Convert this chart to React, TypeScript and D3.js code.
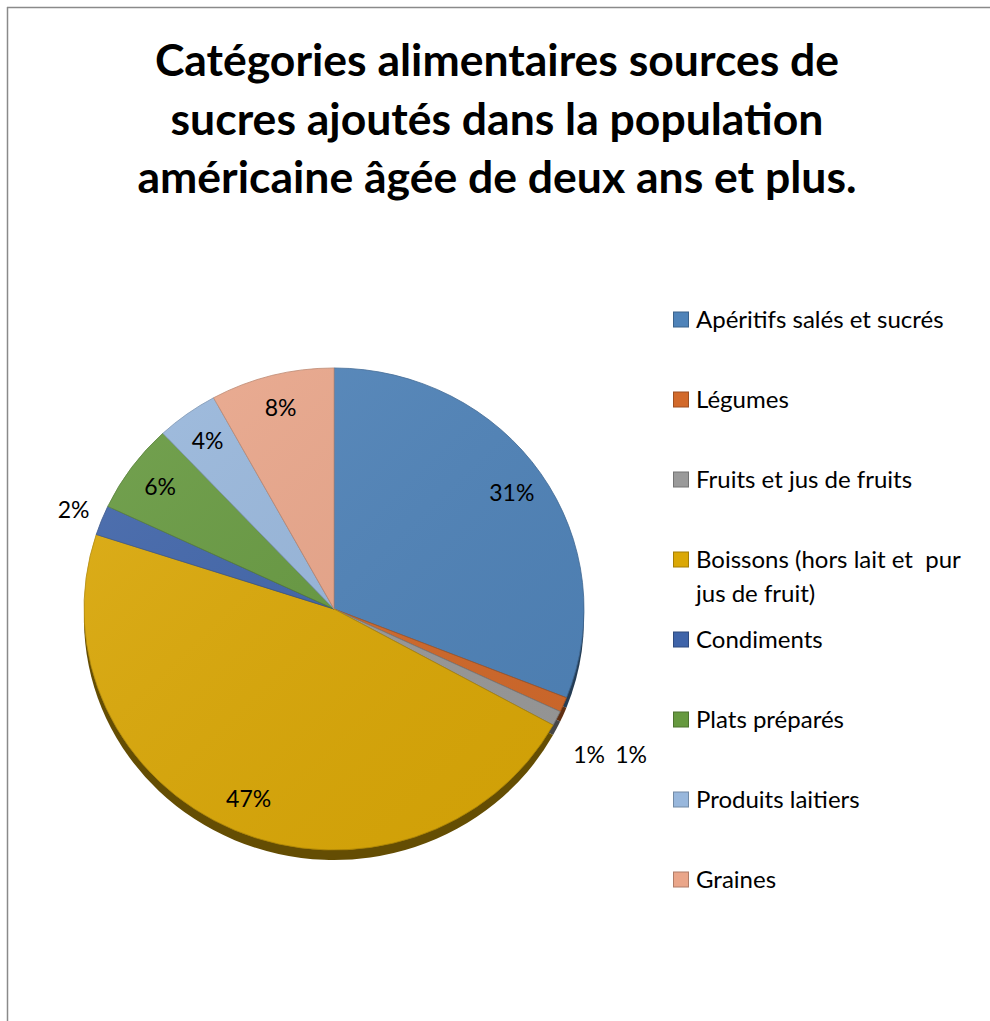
import React from "react";
import * as d3 from "d3";

const titleLines = [
  "Catégories alimentaires sources de",
  "sucres ajoutés dans la population",
  "américaine âgée de deux ans et plus.",
];

const categories = [
  "Apéritifs salés et sucrés",
  "Légumes",
  "Fruits et jus de fruits",
  "Boissons (hors lait et  pur|jus de fruit)",
  "Condiments",
  "Plats préparés",
  "Produits laitiers",
  "Graines",
];

const values = [31, 1, 1, 47, 2, 6, 4, 8];

const colors = [
  "#4f83b9",
  "#d2692a",
  "#9a9a9a",
  "#dba806",
  "#3f64a9",
  "#66993f",
  "#98b7dc",
  "#eaa68a",
];

const W = 990;
const H = 1021;
const cx = 334;
const cy = 609;
const rx = 250;
const ry = 241;
const depth = 10;
const FONT = "Lato, 'Open Sans', sans-serif";

export default function App() {
  const pie = d3
    .pie<number>()
    .sort(null)
    .value((d) => d)
    .startAngle(0)
    .endAngle(Math.PI * 2);
  const arcs = pie(values);
  const arc = d3.arc<d3.PieArcDatum<number>>().innerRadius(0).outerRadius(rx);
  const sy = ry / rx;

  const pt = (a: number, r: number) => [
    cx + rx * r * Math.sin(a),
    cy - ry * r * Math.cos(a),
  ];

  // labels
  const labels: { x: number; y: number; t: string }[] = [];
  let i = 0;
  while (i < arcs.length) {
    const a = arcs[i];
    if (a.data >= 3) {
      const m = (a.startAngle + a.endAngle) / 2;
      const [x, y] = pt(m, 0.86);
      labels.push({ x, y, t: `${a.data}%` });
      i++;
    } else {
      let j = i;
      while (j + 1 < arcs.length && arcs[j + 1].data < 3) j++;
      if (j === i) {
        const m = (a.startAngle + a.endAngle) / 2;
        const [x, y] = pt(m, 1.12);
        labels.push({ x, y, t: `${a.data}%` });
      } else {
        const [x, y] = pt(arcs[j].endAngle, 1.26);
        const n = j - i + 1;
        for (let k = i; k <= j; k++) {
          labels.push({
            x: x + (k - i - (n - 1) / 2) * 42,
            y,
            t: `${arcs[k].data}%`,
          });
        }
      }
      i = j + 1;
    }
  }

  return (
    <svg
      width={W}
      height={H}
      style={{ position: "absolute", left: 0, top: 0, background: "#fff" }}
    >
      <defs>
        <linearGradient id="shade" x1="0" y1="0" x2="1" y2="1">
          <stop offset="0" stopColor="#fff" stopOpacity={0.1} />
          <stop offset="1" stopColor="#000" stopOpacity={0.05} />
        </linearGradient>
      </defs>
      <line x1={7} y1={7.5} x2={W} y2={7.5} stroke="#8a8a8a" strokeWidth={1.5} />
      <line x1={7.5} y1={7} x2={7.5} y2={H} stroke="#8a8a8a" strokeWidth={1.5} />

      {titleLines.map((t, k) => (
        <text
          key={k}
          x={497}
          y={76 + k * 58.5}
          textAnchor="middle"
          fontFamily={FONT}
          fontWeight={700}
          fontSize={44.5}
          fill="#000"
        >
          {t}
        </text>
      ))}

      {/* side */}
      <g transform={`translate(${cx},${cy + depth}) scale(1,${sy})`}>
        {arcs.map((a, k) => (
          <path
            key={k}
            d={arc(a) || ""}
            fill={d3.color(colors[k])!.darker(2.2).toString()}
          />
        ))}
      </g>
      {/* top */}
      <g transform={`translate(${cx},${cy}) scale(1,${sy})`}>
        {arcs.map((a, k) => (
          <path
            key={k}
            d={arc(a) || ""}
            fill={colors[k]}
            stroke={d3.color(colors[k])!.darker(0.6).toString()}
            strokeWidth={0.8}
            vectorEffect="non-scaling-stroke"
          />
        ))}
        <ellipse cx={0} cy={0} rx={rx} ry={rx} fill="url(#shade)" />
      </g>

      {labels.map((l, k) => (
        <text
          key={k}
          x={l.x}
          y={l.y}
          dy="0.35em"
          textAnchor="middle"
          fontFamily={FONT}
          fontSize={23}
          fill="#000"
        >
          {l.t}
        </text>
      ))}

      {categories.map((c, k) => {
        const yc = 319.5 + k * 80;
        const lines = c.split("|");
        return (
          <g key={k}>
            <rect
              x={673.5}
              y={yc - 7.5}
              width={15}
              height={15}
              fill={colors[k]}
              stroke={d3.color(colors[k])!.darker(0.8).toString()}
              strokeWidth={1}
            />
            {lines.map((ln, m) => (
              <text
                key={m}
                x={696}
                y={yc + 8 + m * 34}
                fontFamily={FONT}
                fontSize={24}
                fill="#000"
                style={{ whiteSpace: "pre" }}
              >
                {ln}
              </text>
            ))}
          </g>
        );
      })}
    </svg>
  );
}
